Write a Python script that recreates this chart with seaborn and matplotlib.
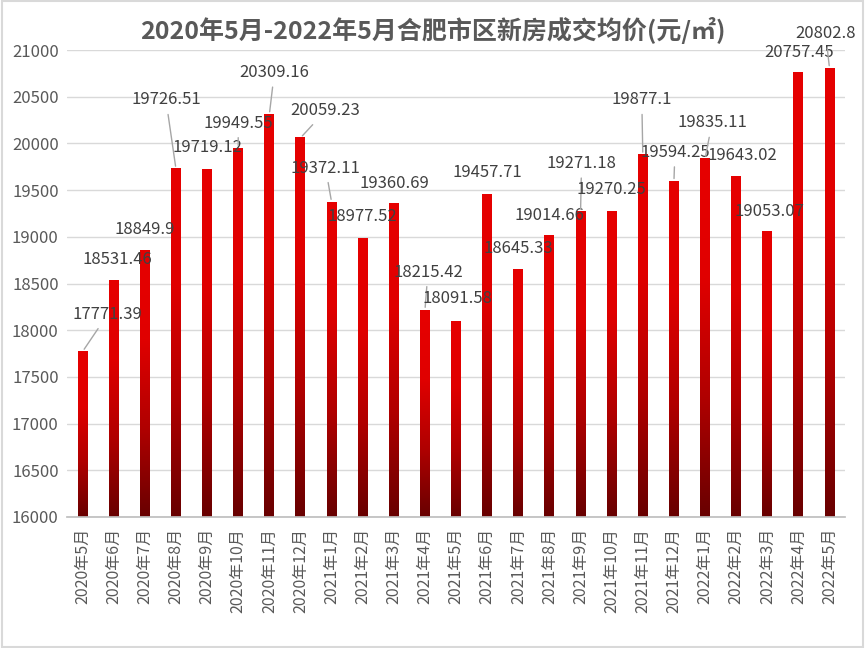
import numpy as np
import pandas as pd
import seaborn as sns
import matplotlib.pyplot as plt
from matplotlib.colors import LinearSegmentedColormap
from matplotlib.patches import Rectangle

# 合肥市区新房成交均价 (元/㎡)
months = ["2020年5月", "2020年6月", "2020年7月", "2020年8月", "2020年9月",
          "2020年10月", "2020年11月", "2020年12月", "2021年1月", "2021年2月",
          "2021年3月", "2021年4月", "2021年5月", "2021年6月", "2021年7月",
          "2021年8月", "2021年9月", "2021年10月", "2021年11月", "2021年12月",
          "2022年1月", "2022年2月", "2022年3月", "2022年4月", "2022年5月"]
prices = [17771.39, 18531.46, 18849.9, 19726.51, 19719.12,
          19949.55, 20309.16, 20059.23, 19372.11, 18977.52,
          19360.69, 18215.42, 18091.58, 19457.71, 18645.33,
          19014.66, 19271.18, 19270.25, 19877.1, 19594.25,
          19835.11, 19643.02, 19053.07, 20757.45, 20802.8]

# label offsets from bar top (pixels) and whether a leader line is drawn
label_offsets = [(25, 37), (4, 21), (0, 21), (-10, 69), (0, 22),
                 (0, 25), (5, 42), (25, 27), (-6, 34), (0, 22),
                 (1, 20), (3, 38), (1, 23), (0, 22), (0, 21),
                 (0, 20), (1, 48), (0, 22), (-1, 55), (1, 29),
                 (7, 36), (6, 21), (2, 20), (1, 20), (-4, 35)]
leaders = {0, 3, 5, 6, 7, 8, 11, 16, 18, 19, 20, 24}

sns.set_theme(style="white")
plt.rcParams['font.family'] = ['Noto Sans CJK SC', 'DejaVu Sans']

df = pd.DataFrame({"month": months, "price": prices})

fig = plt.figure(figsize=(8.65, 6.48), dpi=100)
ax = fig.add_axes([0.0775, 0.2022, 0.8995, 0.7206])

sns.barplot(data=df, x="month", y="price", color="#e00000", width=0.32, ax=ax)

# gradient fill for each bar
ymin, ymax = 16000, 21000
cmap = LinearSegmentedColormap.from_list("redgrad", ["#680000", "#b00000", "#e00000", "#e60000"])
grad = np.linspace(0, 1, 256).reshape(-1, 1)
for p in ax.patches:
    x0, w, h = p.get_x(), p.get_width(), p.get_height()
    ax.imshow(grad, extent=[x0, x0 + w, ymin, h], origin="lower", aspect="auto",
              cmap=cmap, zorder=2)
    p.set_visible(False)

ax.set_xlim(-0.5, len(months) - 0.5)
ax.set_ylim(ymin, ymax)
ax.set_yticks(np.arange(16000, 21001, 500))
ax.yaxis.grid(True, color="#d9d9d9", lw=1)
ax.set_axisbelow(True)

for s in ["top", "right", "left"]:
    ax.spines[s].set_visible(False)
ax.spines["bottom"].set_color("#bfbfbf")

ax.set_xlabel("")
ax.set_ylabel("")
ax.tick_params(axis="y", length=0, labelsize=12, labelcolor="#595959", pad=6)
ax.tick_params(axis="x", which="major", length=0, labelsize=11.5, labelcolor="#595959",
               rotation=90, pad=8)
ax.set_xticks(np.arange(-0.5, len(months), 1), minor=True)
ax.tick_params(axis="x", which="minor", length=6, color="#bfbfbf", width=1)

for i, (v, (dx, dy)) in enumerate(zip(prices, label_offsets)):
    arrow = dict(arrowstyle="-", color="#a6a6a6", lw=1) if i in leaders else None
    ax.annotate(str(v), xy=(i, v), xytext=(dx, dy), textcoords="offset pixels",
                ha="center", va="center", fontsize=12, color="#404040",
                arrowprops=arrow, zorder=4)

fig.text(0.5, 0.953, "2020年5月-2022年5月合肥市区新房成交均价(元/㎡)",
         ha="center", va="center", fontsize=18, fontweight="bold", color="#595959")

fig.patches.append(Rectangle((0.002, 0.002), 0.996, 0.996, transform=fig.transFigure,
                             fill=False, ec="#d9d9d9", lw=1.5))

fig.savefig("out.png", dpi=100)
